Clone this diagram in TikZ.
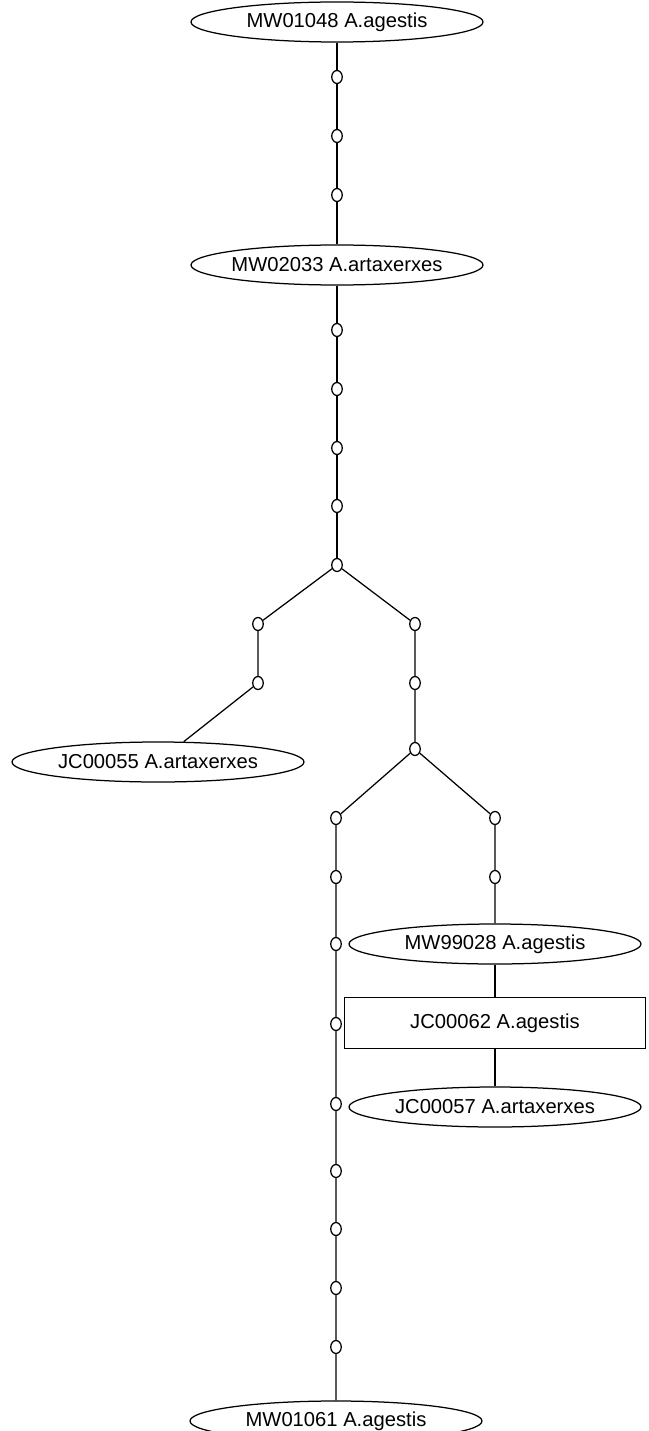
\documentclass[tikz,border=0pt]{standalone}
\usepackage{fontspec}
\setmainfont{Liberation Sans}
\usetikzlibrary{shapes.geometric}
\begin{document}
\begin{tikzpicture}[x=1pt,y=-1pt,
  every path/.style={line width=1.25pt},
  taxon/.style={draw,ellipse,minimum width=292pt,minimum height=40pt,inner xsep=-20pt,inner ysep=0pt,
    font=\fontsize{20.2}{24}\selectfont},
  boxtaxon/.style={draw,rectangle,minimum width=301pt,minimum height=51pt,inner sep=0pt,
    font=\fontsize{20.2}{24}\selectfont},
  hub/.style={draw,ellipse,minimum width=10.5pt,minimum height=13pt,inner sep=0pt,fill=white}]
\useasboundingbox (0,0) rectangle (648,1431);
% sampled haplotypes
\node[taxon] (t1) at (337,22) {MW01048 A.agestis};
\node[taxon] (t2) at (337,265) {MW02033 A.artaxerxes};
\node[taxon] (t3) at (158,762) {JC00055 A.artaxerxes};
\node[taxon] (t4) at (495,944) {MW99028 A.agestis};
\node[boxtaxon] (t5) at (495,1023) {JC00062 A.agestis};
\node[taxon] (t6) at (495,1107) {JC00057 A.artaxerxes};
\node[taxon] (t7) at (336,1421) {MW01061 A.agestis};
% missing intermediate haplotypes
\node[hub] (a1) at (337,77) {};
\node[hub] (a2) at (337,136) {};
\node[hub] (a3) at (337,195) {};
\node[hub] (b1) at (337,330) {};
\node[hub] (b2) at (337,389) {};
\node[hub] (b3) at (337,448) {};
\node[hub] (b4) at (337,506) {};
\node[hub] (c0) at (337,565) {};
\node[hub] (l1) at (258,624) {};
\node[hub] (l2) at (258,683) {};
\node[hub] (r1) at (415,624) {};
\node[hub] (r2) at (415,683) {};
\node[hub] (r3) at (415,749) {};
\node[hub] (s1) at (495,818) {};
\node[hub] (s2) at (495,877) {};
\node[hub] (d1) at (336,818) {};
\node[hub] (d2) at (336,877) {};
\node[hub] (d3) at (336,944) {};
\node[hub] (d4) at (336,1024) {};
\node[hub] (d5) at (336,1104) {};
\node[hub] (d6) at (336,1171) {};
\node[hub] (d7) at (336,1229) {};
\node[hub] (d8) at (336,1288) {};
\node[hub] (d9) at (336,1347) {};
% network edges
\draw (t1) -- (a1) -- (a2) -- (a3) -- (t2);
\draw (t2) -- (b1) -- (b2) -- (b3) -- (b4) -- (c0);
\draw (c0) -- (l1) -- (l2) -- (t3);
\draw (c0) -- (r1) -- (r2) -- (r3);
\draw (r3) -- (s1) -- (s2) -- (t4);
\draw (t4) -- (t5) -- (t6);
\draw (r3) -- (d1) -- (d2) -- (d3) -- (d4) -- (d5) -- (d6) -- (d7) -- (d8) -- (d9) -- (t7);
\end{tikzpicture}
\end{document}
